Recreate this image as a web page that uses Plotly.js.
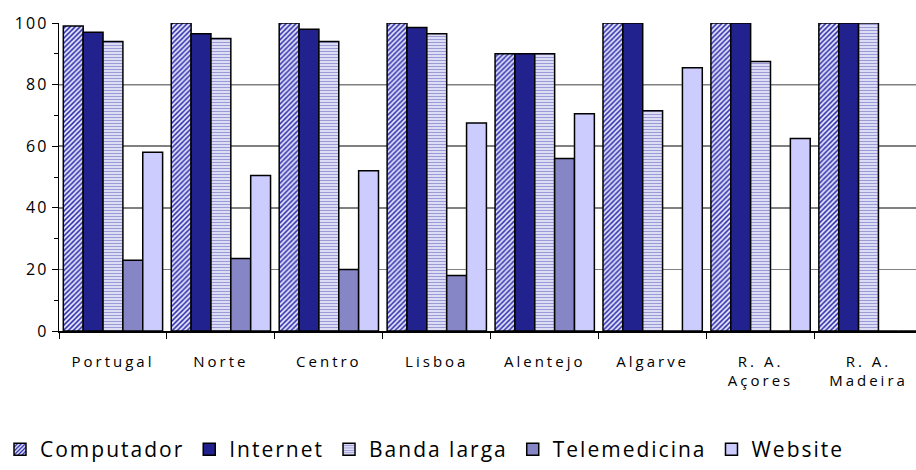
<!DOCTYPE html>
<html>
<head>
<meta charset="utf-8">
<script src="https://cdn.plot.ly/plotly-3.0.1.min.js"></script>
<style>
html,body{margin:0;padding:0;background:#fff;}
svg text{letter-spacing:2px;}
svg .xtick text{letter-spacing:3px;}
</style>
</head>
<body>
<div id="chart" style="width:916px;height:470px;"></div>
<script>
const categories = ['Portugal', 'Norte', 'Centro', 'Lisboa', 'Alentejo', 'Algarve', 'R. A.<br>Açores', 'R. A.<br>Madeira'];
const computador  = [99, 100, 100, 100, 90, 100, 100, 100];
const internet    = [97, 96.5, 98, 98.5, 90, 100, 100, 100];
const bandaLarga  = [94, 95, 94, 96.5, 90, 71.5, 87.5, 100];
const telemedicina= [23, 23.5, 20, 18, 56, 0, 0, 0];
const website     = [58, 50.5, 52, 67.5, 70.5, 85.5, 62.5, 0];
const yTicks = [0, 20, 40, 60, 80, 100];
const darkGrid = [60, 80];

const line = {color: '#000000', width: 1.5};
const traces = [
  {name: 'Computador', y: computador, marker: {color: '#ffffff', line: line,
     pattern: {shape: '/', fgcolor: '#2a2aa8', bgcolor: '#e8e8ff', size: 3.5, solidity: 0.45}}},
  {name: 'Internet', y: internet, marker: {color: '#22228f', line: line}},
  {name: 'Banda larga', y: bandaLarga, marker: {color: '#ffffff', line: line,
     pattern: {shape: '-', fgcolor: '#9a9ad6', bgcolor: '#f2f2ff', size: 3, solidity: 0.5}}},
  {name: 'Telemedicina', y: telemedicina, marker: {color: '#8686c6', line: line}},
  {name: 'Website', y: website, marker: {color: '#ccccff', line: line}}
].map(t => Object.assign({type: 'bar', x: categories, hoverinfo: 'skip'}, t));

const gridShapes = darkGrid.map(v => ({type: 'line', xref: 'paper', yref: 'y', x0: 0, x1: 1,
  y0: v, y1: v, layer: 'below', line: {color: '#000000', width: 1.2}}));

const layout = {
  width: 916, height: 470,
  margin: {l: 59, r: 0, t: 23, b: 139},
  paper_bgcolor: '#ffffff', plot_bgcolor: '#ffffff',
  font: {family: 'Open Sans, DejaVu Sans, sans-serif', color: '#000000', size: 14},
  barmode: 'group', bargap: 0.08, bargroupgap: 0,
  showlegend: true,
  legend: {orientation: 'h', xref: 'container', yref: 'container', x: -0.01, y: 0.0,
           xanchor: 'left', yanchor: 'bottom', font: {size: 21}, itemwidth: 30,
           traceorder: 'normal'},
  shapes: gridShapes,
  xaxis: {type: 'category', range: [-0.5, 7.44], tickson: 'boundaries', ticks: 'outside',
          ticklen: 6, tickcolor: '#000', showline: true, linecolor: '#000', linewidth: 1.5,
          showgrid: false, ticklabelstandoff: 16, tickfont: {size: 15}, fixedrange: true},
  yaxis: {range: [0, 100], tickvals: yTicks, ticks: 'outside', ticklen: 6, tickcolor: '#000',
          showline: true, linecolor: '#000', linewidth: 1.5, showgrid: true,
          gridcolor: '#808080', gridwidth: 1.5, zeroline: false, tickfont: {size: 16},
          minor: {dtick: 10, ticks: 'outside', ticklen: 4, tickcolor: '#000', showgrid: false},
          fixedrange: true}
};

Plotly.newPlot('chart', traces, layout, {staticPlot: true, displayModeBar: false});
</script>
</body>
</html>
